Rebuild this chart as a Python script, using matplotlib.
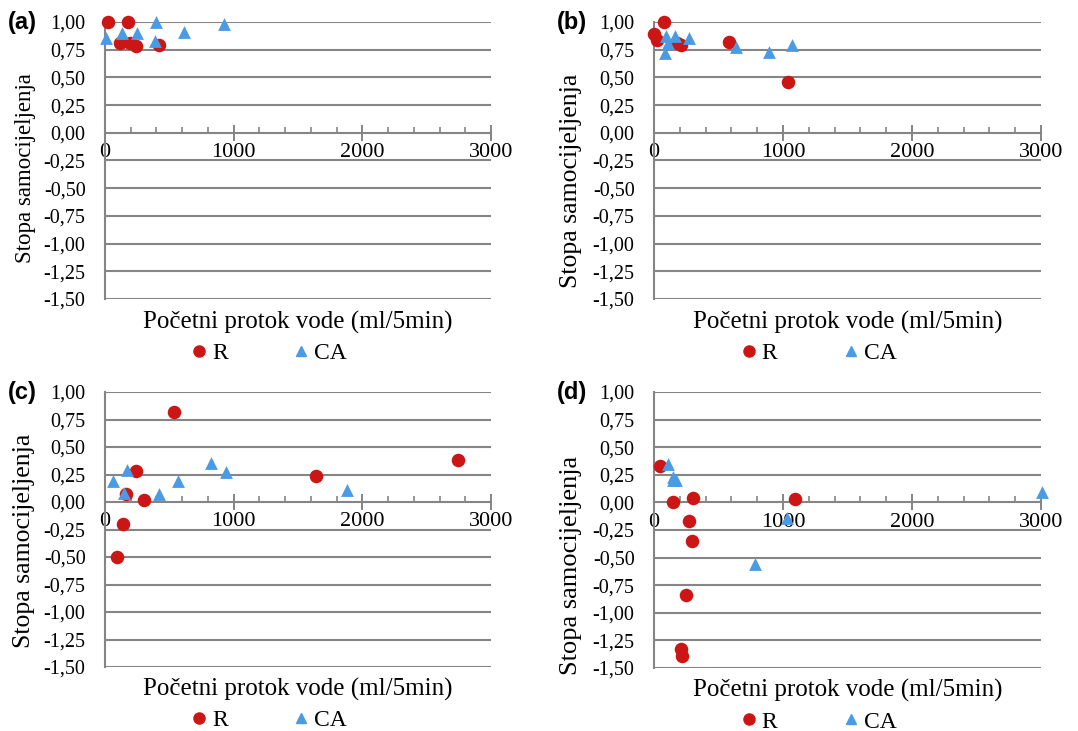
import matplotlib
matplotlib.use("Agg")
import matplotlib.pyplot as plt
from matplotlib.ticker import MultipleLocator, FuncFormatter
from matplotlib.lines import Line2D

plt.rcParams["font.family"] = ["Liberation Serif", "DejaVu Serif"]

RED = "#CC1616"
BLUE = "#4A9BE6"
GRID = "#858585"

# (a)
a_r_x = [20, 175, 115, 195, 240, 420]
a_r_y = [1.00, 1.00, 0.81, 0.81, 0.78, 0.79]
a_ca_x = [8, 130, 250, 400, 390, 617, 925]
a_ca_y = [0.86, 0.90, 0.90, 1.00, 0.83, 0.91, 0.98]

# (b)
b_r_x = [0, 26, 80, 176, 207, 584, 1041]
b_r_y = [0.89, 0.84, 1.00, 0.81, 0.79, 0.82, 0.46]
b_ca_x = [93, 85, 111, 163, 274, 636, 894, 1067]
b_ca_y = [0.87, 0.72, 0.81, 0.87, 0.86, 0.77, 0.73, 0.79]

# (c)
c_r_x = [538, 239, 166, 301, 140, 90, 1642, 2743]
c_r_y = [0.82, 0.28, 0.07, 0.02, -0.20, -0.50, 0.24, 0.38]
c_ca_x = [62, 174, 148, 421, 569, 821, 940, 1881]
c_ca_y = [0.19, 0.29, 0.08, 0.07, 0.19, 0.355, 0.27, 0.106]

# (d)
d_r_x = [47, 145, 305, 275, 295, 1096, 250, 210, 220]
d_r_y = [0.33, 0.00, 0.04, -0.17, -0.35, 0.03, -0.84, -1.33, -1.39]
d_ca_x = [112, 146, 172, 151, 1031, 3010, 785]
d_ca_y = [0.35, 0.20, 0.20, 0.23, -0.145, 0.09, -0.56]

panels = [
    ("(a)", a_r_x, a_r_y, a_ca_x, a_ca_y),
    ("(b)", b_r_x, b_r_y, b_ca_x, b_ca_y),
    ("(c)", c_r_x, c_r_y, c_ca_x, c_ca_y),
    ("(d)", d_r_x, d_r_y, d_ca_x, d_ca_y),
]

W, H = 1078, 731
# pixel boxes: left, top, right, bottom
boxes = [(105, 22, 491, 299), (654, 22, 1041, 299),
         (105, 392, 491, 667), (654, 392, 1041, 668)]
# y-label placement (axes fraction) and size, a bit different per panel
ylab_pos = [(-0.205, 0.473), (-0.215, 0.426), (-0.21, 0.46), (-0.215, 0.37)]
ylab_size = [16.5, 18.5, 18.5, 19]

fig = plt.figure(figsize=(W / 100, H / 100), dpi=100)

for i, ((tag, rx, ry, cx, cy), (l, t, r, b)) in enumerate(zip(panels, boxes)):
    ax = fig.add_axes([l / W, 1 - b / H, (r - l) / W, (b - t) / H])
    ax.set_xlim(0, 3000)
    ax.set_ylim(-1.5, 1.0)
    for v in [1.0, 0.75, 0.5, 0.25, -0.25, -0.5, -0.75, -1.0, -1.25, -1.5]:
        ax.axhline(v, color=GRID, lw=1.5, zorder=1)
    ax.spines["top"].set_visible(False)
    ax.spines["right"].set_visible(False)
    ax.spines["bottom"].set_position(("data", 0))
    ax.spines["bottom"].set_color(GRID)
    ax.spines["bottom"].set_linewidth(1.5)
    ax.spines["left"].set_color(GRID)
    ax.spines["left"].set_linewidth(1.5)
    ax.xaxis.set_major_locator(MultipleLocator(1000))
    ax.xaxis.set_minor_locator(MultipleLocator(200))
    ax.tick_params(axis="x", which="major", direction="inout", length=11,
                   width=1.4, color=GRID, labelsize=16, pad=2)
    ax.tick_params(axis="x", which="minor", direction="in", length=4,
                   width=1.2, color=GRID)
    ax.yaxis.set_major_locator(MultipleLocator(0.25))
    ax.yaxis.set_major_formatter(FuncFormatter(
        lambda v, p: ("%.2f" % v).replace(".", ",").replace("-0,00", "0,00")))
    ax.tick_params(axis="y", length=0, labelsize=14.5, pad=14)

    ax.scatter(rx, ry, s=95, color=RED, marker="o", zorder=3, clip_on=False,
               linewidths=0)
    ax.scatter(cx, cy, s=85, color=BLUE, marker="^", zorder=3, clip_on=False,
               linewidths=0)

    ax.set_ylabel("Stopa samocijeljenja", fontsize=ylab_size[i], va="center")
    ax.yaxis.set_label_coords(*ylab_pos[i])
    ax.set_xlabel("Početni protok vode (ml/5min)", fontsize=18, va="center")
    ax.xaxis.set_label_coords(0.5, -0.083)

    handles = [
        Line2D([], [], marker="o", color=RED, ls="none", markersize=8),
        Line2D([], [], marker="^", color=BLUE, ls="none", markersize=7),
    ]
    ax.legend(handles, ["R", "CA"], loc="center", ncol=2, frameon=False,
              bbox_to_anchor=(0.42, -0.195), fontsize=17, handletextpad=0.05,
              columnspacing=2.6, handlelength=1.0)

    fig.text((l - 97) / W, 1 - t / H, tag, fontsize=17, fontweight="bold",
             family="Liberation Sans", va="center", ha="left")

fig.savefig("out.png", dpi=100)
